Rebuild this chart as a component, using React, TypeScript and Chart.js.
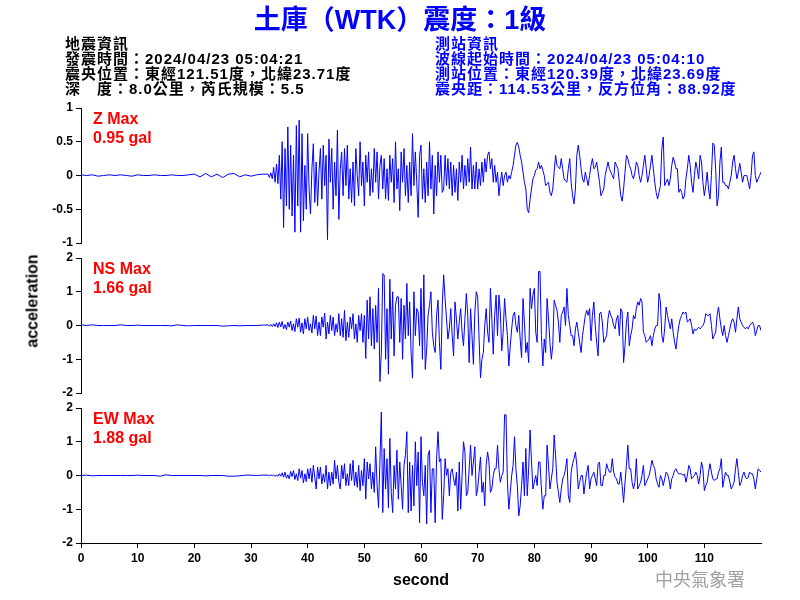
import React, { useEffect, useRef } from "react";
import { Chart, registerables } from "chart.js";

Chart.register(...registerables);

const FONT = "'Liberation Sans', Arial, 'Noto Sans CJK TC', sans-serif";

// ---- time axis (seconds) ----
const QUIET_STEP = 1;
const ACTIVE_START = 33;
const ACTIVE_STEP = 0.25;
const X_MIN = 0;
const X_MAX = 120;
const X_TICK_STEP = 10;
const X_LAST_LABEL = 110;

// ---- Z component (gal) ----
const zQuiet = [0.01, 0, 0.01, -0.01, 0, 0.01, 0, 0.01, 0, -0.01, 0.01, 0, 0, 0.01, 0, 0, 0.01, 0, 0, 0.01, 0.02, -0.02, 0.03, -0.02, 0.02, -0.03, 0.02, 0.03, -0.02, 0.01, -0.01, 0.01, 0.02];
const zActive = [
  0.02, -0.03, 0.04, -0.05,
  0.12, -0.1, 0.17, -0.12,
  0.3, -0.35, 0.5, -0.77,
  0.4, -0.45, 0.72, -0.5,
  0.45, -0.6, 0.3, -0.84,
  0.74, -0.45, 0.82, -0.84,
  0.62, -0.67, 0.15, -0.5,
  0.62, -0.2, -0.57, 0.1,
  0.47, -0.4, 0.2, -0.45,
  0.05, 0.4, -0.35, 0.45,
  -0.15, 0.3, -0.95, 0.54,
  -0.1, 0.4, -0.5, 0.2,
  -0.3, 0.67, -0.65, 0.1,
  0.35, -0.3, 0.4, -0.15,
  0.45, -0.35, 0.1, -0.4,
  0.2, -0.45, 0.4, 0.0,
  -0.3, 0.5, -0.15, 0.2,
  -0.45, 0.3, -0.1, 0.35,
  -0.3, 0.1, -0.25, 0.4,
  -0.1, 0.35, -0.35, 0.15,
  0.3, -0.2, 0.25, -0.35,
  0.1, -0.37, 0.3, -0.1,
  0.25, -0.4, 0.5, -0.2,
  0.1, -0.52, 0.35, -0.1,
  0.4, -0.3, 0.15, -0.4,
  0.2, -0.3, 0.62, -0.15,
  0.35, -0.1, -0.62, 0.3,
  0.45, -0.35, 0.1, -0.4,
  0.2, -0.3, 0.5, -0.2,
  0.3, -0.57, 0.15, -0.3,
  0.35, -0.1, 0.3, -0.25,
  -0.2, 0.3, -0.15, 0.25,
  -0.2, 0.2, -0.3, 0.15,
  -0.25, 0.1, -0.37, 0.2,
  -0.1, 0.3, -0.2, 0.15,
  -0.15, 0.25, -0.1, 0.42,
  -0.2, 0.15, -0.2, 0.2,
  -0.2, 0.1, -0.15, 0.2,
  -0.1, 0.25, 0.05, 0.3,
  0.35, 0.1, 0.25, -0.1,
  0.15, -0.1, 0.05, -0.3,
  -0.1, 0.05, -0.15, 0.0,
  0.05, -0.1, 0.0, -0.05,
  0.05, 0.15, 0.3, 0.45,
  0.49, 0.42, 0.3, 0.2,
  0.05, -0.1, -0.2, -0.5,
  -0.55, -0.35, -0.2, -0.05,
  0.0, 0.08, 0.1, 0.2,
  0.1, 0.15, 0.08, 0.0,
  -0.15, -0.12, -0.1, -0.25,
  -0.3, -0.2, 0.05, 0.3,
  0.15, 0.12, 0.1, 0.25,
  0.1, -0.05, -0.08, -0.1,
  0.1, 0.25, -0.1, -0.3,
  -0.42, -0.2, 0.3, 0.45,
  0.3, 0.1, -0.05, -0.1,
  0.05, -0.05, -0.15, 0.0,
  0.15, 0.25, 0.1, 0.12,
  0.2, 0.05, -0.1, -0.3,
  -0.25, -0.2, 0.0, 0.1,
  0.2, 0.1, 0.05, 0.0,
  -0.05, 0.2, 0.15, 0.1,
  -0.1, -0.3, -0.38, -0.2,
  0.05, 0.3, 0.25, 0.15,
  0.1, 0.0, -0.05, 0.05,
  0.2, 0.15, 0.0, -0.1,
  0.0, 0.15, 0.3, 0.1,
  -0.1, 0.0, 0.15, 0.3,
  0.1, -0.1, -0.25, -0.35,
  -0.25, -0.15, 0.4, 0.57,
  -0.15, -0.1, -0.05, -0.15,
  -0.05, 0.15, 0.27, 0.2,
  0.1, 0.1, -0.25, -0.2,
  -0.25, -0.35, -0.3, -0.05,
  0.1, 0.3, 0.15, -0.1,
  -0.25, 0.0, 0.2, 0.1,
  -0.05, 0.3, 0.2, -0.1,
  -0.3, -0.15, 0.05, -0.2,
  -0.35, 0.0, 0.48, 0.45,
  0.1, -0.45, -0.3, 0.2,
  0.42, -0.1, -0.1, -0.15,
  -0.15, -0.2, -0.1, 0.0,
  0.2, 0.3, 0.1, -0.05,
  0.05, 0.18, 0.05, -0.1,
  0.0, 0.0, 0.0, -0.1,
  -0.2, 0.0, 0.3, 0.35,
  0.0, -0.1, -0.05, 0.0,
  0.05,
];

// ---- NS component (gal) ----
const nsQuiet = [0.02, 0, 0.02, 0, 0, 0, 0, 0.02, 0, 0, 0.01, 0, 0, 0, 0, 0, -0.01, 0.02, 0, -0.01, 0, 0, 0, 0, 0, -0.02, -0.01, 0, -0.01, 0, 0, 0, 0.01];
const nsActive = [
  0.02, -0.02, 0.03, -0.03,
  0.05, -0.03, 0.08, -0.06,
  0.1, -0.04, 0.12, -0.1,
  0.03, -0.12, 0.1, -0.05,
  0.13, -0.15, 0.05, -0.18,
  0.2, -0.05, 0.22, -0.2,
  0.08, -0.25, 0.2, -0.1,
  0.25, -0.15, 0.05, -0.22,
  0.3, -0.1, 0.28, -0.3,
  0.1, -0.3, 0.25, -0.05,
  0.37, -0.4, 0.1, -0.25,
  0.3, -0.15, 0.25, -0.3,
  0.05, -0.2, 0.35, -0.3,
  0.2, -0.35, 0.45, -0.45,
  0.1, -0.35, 0.25, -0.1,
  0.35, -0.4, 0.05, -0.5,
  0.3, -0.15, 0.35, -0.5,
  0.3, -0.98, 0.75, -0.4,
  0.85, -0.6, 0.5, -0.7,
  0.6, -0.5, 1.1, -1.66,
  -0.8, 1.54, 1.5, -1.0,
  0.5, -1.44, 1.37, -0.4,
  1.0, -0.9, 0.6, 0.85,
  0.85, -0.5, 0.8, -1.0,
  0.6, -0.4, 1.25, -0.3,
  0.7, -0.8, -1.56, 1.0,
  -0.3, 0.5, 0.4, -0.6,
  1.1, -1.0, 1.5, -1.3,
  -0.7, 0.3, 0.6, 1.0,
  -0.2, -0.6, -0.8, 0.3,
  0.75, -0.5, -1.3, 0.6,
  1.5, 0.8, 0.2, -0.4,
  -0.1, 0.5, -0.3, -0.9,
  0.7, 0.2, -0.4, 0.1,
  0.5, -0.2, -0.6, 0.2,
  0.95, 0.3, -1.1, 0.5,
  -0.3, -1.15, 0.4, 1.0,
  0.85, -0.4, -1.55, -1.0,
  -0.8, 0.0, 0.5, -0.2,
  -0.5, 1.1, 0.2, -0.85,
  0.3, 0.9, -0.3, 0.9,
  0.4, -0.75, -0.2, 0.8,
  0.2, -0.3, -1.2, -0.6,
  -0.1, 0.3, 0.4, 0.0,
  -0.2, 0.3, -0.4, -0.95,
  0.8, 0.1, -0.8, -0.5,
  -1.1, 1.1, 0.5, 0.9,
  1.1, -0.2, -0.5, 1.6,
  1.6, -0.3, -1.2, -0.4,
  -0.8, 0.8, 0.2, -0.5,
  -1.0, -0.6, 0.75, 0.6,
  0.45, 0.1, -0.5, 0.3,
  0.4, 0.55, 0.0, 1.1,
  0.3, 0.0, -0.3, -0.3,
  -0.6, -0.1, 0.1, -0.2,
  -0.5, -0.8, -0.3, 0.0,
  0.3, 0.45, 0.3, 0.5,
  -0.45, 0.3, 0.7, 0.0,
  -0.5, -0.9, 0.35, 0.4,
  0.1, -0.5, -0.4, -0.3,
  0.2, 0.45, 0.3, 0.2,
  0.0, -0.1, 0.2, 0.3,
  -0.3, 0.5, 0.4, -1.1,
  -0.6, 0.1, 0.4, -0.6,
  -0.3, -0.1, 0.3, 0.2,
  0.5, 0.7, 0.6, 0.8,
  0.7, -0.2, -0.3, -0.5,
  -0.45, -0.4, -0.3, -0.6,
  -0.3, -0.1, 0.0, 0.0,
  0.95, 0.7, -0.3, -0.5,
  -0.1, 0.55, 0.3, 0.1,
  -0.1, 0.2, -0.2, -0.5,
  -0.7, -0.3, 0.0, 0.2,
  0.3, 0.4, 0.35, 0.4,
  0.1, 0.15, 0.2, 0.0,
  -0.25, -0.1, -0.15, -0.1,
  -0.05, -0.1, -0.05, 0.0,
  0.1, 0.35, 0.3, 0.3,
  0.35, 0.0, -0.4, -0.3,
  -0.2, 0.3, 0.55, 0.2,
  -0.1, -0.3, 0.0, -0.3,
  -0.5, -0.3, -0.1, 0.1,
  0.2, 0.1, -0.2, 0.2,
  0.55, 0.2, 0.1, 0.0,
  -0.05, -0.1, -0.05, -0.1,
  0.0, 0.05, 0.1, 0.0,
  -0.3, -0.15, 0.0, 0.0,
  -0.15,
];

// ---- EW component (gal) ----
const ewQuiet = [0, 0.01, -0.01, 0, 0, 0, 0, 0, 0, 0, 0.01, 0, 0, 0, -0.02, 0.02, 0, 0, 0, 0, 0, 0, -0.01, 0, 0, 0, -0.02, -0.02, -0.01, 0.01, 0.01, 0, 0.01];
const ewActive = [
  0.01, -0.01, 0.02, -0.01,
  0.02, -0.03, 0.02, -0.02,
  0.05, -0.02, 0.08, -0.05,
  0.1, -0.08, 0.02, -0.1,
  0.12, -0.03, 0.15, -0.12,
  0.05, -0.15, 0.2, -0.08,
  0.15, -0.22, 0.05, -0.18,
  0.2, -0.1, 0.22, -0.2,
  0.3, -0.05, -0.4, 0.25,
  -0.1, 0.25, -0.25, 0.05,
  -0.2, 0.3, -0.4, 0.1,
  -0.3, 0.1, -0.25, 0.45,
  -0.1, 0.3, -0.2, -0.4,
  0.3, -0.1, 0.35, -0.3,
  0.05, -0.3, 0.35, -0.15,
  0.45, -0.3, 0.1, -0.35,
  0.3, -0.45, 0.15, -0.3,
  0.5, -0.7, 0.4, -0.1,
  0.35, -0.4, 0.1, -0.5,
  0.85, -0.3, -0.95, 0.4,
  1.88, -1.1, 0.8, -0.4,
  0.5, -0.95, 1.1, -0.5,
  -1.1, 0.3, -0.4, 0.75,
  -0.7, 0.4, -0.3, -1.0,
  0.3, 0.6, 1.3, -1.1,
  0.4, -1.05, 0.3, -0.9,
  1.0, -0.3, 0.7, -1.4,
  1.15, -0.2, -0.6, 0.3,
  -1.44, 0.6, 0.75, -1.1,
  0.2, 0.2, -1.4, 0.5,
  1.3, 0.4, 0.5, -1.3,
  -0.6, 0.5, 0.0, 0.2,
  -0.6, 0.1, 0.2, -0.1,
  -0.3, 0.1, -1.05, 0.4,
  -1.0, 0.0, 1.0, 0.7,
  -0.6, -0.5, 0.2, 0.9,
  0.0, 0.4, 0.85, -0.6,
  -0.4, 0.1, 0.55, -0.5,
  -0.2, -0.9, 0.3, 0.7,
  0.4, -0.5, -0.4, 0.0,
  0.2, 0.2, 0.9, 0.2,
  -0.2, 0.0, 0.1, 1.8,
  1.8, -0.2, -1.0, -0.5,
  0.0, 0.3, 1.15, 0.2,
  -0.3, -1.2, -0.9, -0.3,
  0.4, -0.6, 0.8, -0.6,
  0.2, 1.35, 0.4, -0.4,
  -0.2, 0.0, -0.3, 0.4,
  0.4, -0.4, -1.0, -0.6,
  -0.6, 0.9, 0.3, -0.4,
  -0.1, 0.2, 1.2, 0.6,
  -0.2, -0.5, -0.8, -0.4,
  -0.1, 0.0, 0.2, 0.5,
  -0.6, -0.8, 0.1, 0.35,
  0.5, 0.7, 0.3, -0.4,
  -0.2, 0.0, 0.0, -0.55,
  -0.2, 0.1, 0.3, -0.4,
  -0.1, 0.0, 0.1, -0.1,
  -0.3, 0.35, 0.4, -0.3,
  -0.3, 0.0, 0.0, 0.35,
  0.2, 0.1, 0.1, 0.5,
  0.1, -0.05, -0.1, -0.25,
  -0.25, 0.1, -0.3, -0.8,
  -0.2, 0.3, 0.9, 0.2,
  0.2, -0.2, -0.4, -0.2,
  0.5, -0.4, -0.3, -0.2,
  0.0, 0.3, -0.3, -0.2,
  -0.1, 0.0, 0.2, 0.45,
  0.3, 0.2, -0.1, -0.25,
  -0.35, 0.0, -0.1, -0.3,
  -0.1, 0.1, 0.05, -0.1,
  -0.4, -0.1, 0.0, 0.15,
  0.2, 0.1, 0.05, 0.05,
  0.05, 0.0, 0.05, -0.2,
  0.0, 0.3, 0.2, -0.1,
  -0.05, 0.0, 0.1, 0.0,
  -0.25, 0.0, 0.4, 0.2,
  -0.45, -0.3, -0.2, 0.1,
  0.35, 0.1, -0.1, -0.15,
  -0.1, -0.1, 0.1, 0.2,
  0.5, -0.35, -0.1, 0.1,
  0.0, 0.0, -0.2, -0.4,
  -0.3, -0.2, 0.2, 0.5,
  0.1, -0.3, -0.2, 0.0,
  0.1, -0.05, -0.1, -0.05,
  0.1, 0.05, 0.05, -0.1,
  -0.4, -0.1, 0.2, 0.15,
  0.1,
];

// ---- axis ranges / labels ----
const channelNames = ["Z", "NS", "EW"];
const channelPeaks = ["0.95 gal", "1.66 gal", "1.88 gal"];
const yMins = [-1, -2, -2];
const yMaxs = [1, 2, 2];
const ySteps = [0.5, 1, 1];
const quietSeries = [zQuiet, nsQuiet, ewQuiet];
const activeSeries = [zActive, nsActive, ewActive];

const titleText = "土庫（WTK）震度：1級";
const quakeInfo = [
  "地震資訊",
  "發震時間：2024/04/23 05:04:21",
  "震央位置：東經121.51度，北緯23.71度",
  "深　度：8.0公里，芮氏規模：5.5",
];
const stationInfo = [
  "測站資訊",
  "波線起始時間：2024/04/23 05:04:10",
  "測站位置：東經120.39度，北緯23.69度",
  "震央距：114.53公里，反方位角：88.92度",
];
const yTitle = "acceleration";
const xTitle = "second";
const agency = "中央氣象署";

// ---- layout ----
const W = 800;
const H = 600;
const PANEL_TOP = 108;
const PANEL_PITCH = 150;
const PANEL_H = 135;
const PLOT_LEFT = 81;
const PLOT_RIGHT = 761;
const X_AXIS_H = 57;

function toPoints(quiet: number[], active: number[]) {
  const pts: { x: number; y: number }[] = [];
  quiet.forEach((v, i) => pts.push({ x: X_MIN + i * QUIET_STEP, y: v }));
  active.forEach((v, i) => pts.push({ x: ACTIVE_START + i * ACTIVE_STEP, y: v }));
  return pts;
}

export default function App() {
  const r0 = useRef<HTMLCanvasElement>(null);
  const r1 = useRef<HTMLCanvasElement>(null);
  const r2 = useRef<HTMLCanvasElement>(null);

  useEffect(() => {
    const refs = [r0, r1, r2];
    const tickFont = { family: FONT, size: 12, weight: "bold" as const };
    const charts = refs.map((ref, i) => {
      const isLast = i === refs.length - 1;
      const top = PANEL_TOP + i * PANEL_PITCH;
      const bottom = top + PANEL_H;
      return new Chart(ref.current as HTMLCanvasElement, {
        type: "line",
        data: {
          datasets: [
            {
              data: toPoints(quietSeries[i], activeSeries[i]),
              borderColor: "#0000ff",
              borderWidth: 1,
              pointRadius: 0,
              fill: false,
              tension: 0,
            },
          ],
        },
        options: {
          responsive: false,
          animation: false,
          parsing: false,
          normalized: true,
          events: [],
          layout: {
            padding: {
              left: 0,
              right: W - PLOT_RIGHT,
              top: top,
              bottom: isLast ? H - bottom - X_AXIS_H : H - bottom,
            },
          },
          plugins: {
            legend: { display: false },
            tooltip: { enabled: false },
            title: { display: false },
          },
          scales: {
            x: {
              type: "linear",
              display: isLast,
              min: X_MIN,
              max: X_MAX,
              afterBuildTicks: (s: any) => {
                s.ticks = s.ticks.filter((t: any) => t.value <= X_LAST_LABEL);
              },
              afterFit: (s: any) => {
                s.height = isLast ? X_AXIS_H : 0;
              },
              ticks: {
                stepSize: X_TICK_STEP,
                autoSkip: false,
                maxRotation: 0,
                color: "#000",
                font: tickFont,
                padding: 3,
              },
              grid: { drawOnChartArea: false, drawTicks: true, tickLength: 5, color: "#000" },
              border: { display: true, color: "#000" },
              title: {
                display: true,
                text: xTitle,
                color: "#000",
                font: { family: FONT, size: 16, weight: "bold" },
                padding: { top: 0, bottom: 10 },
              },
            },
            y: {
              type: "linear",
              min: yMins[i],
              max: yMaxs[i],
              afterFit: (s: any) => {
                s.width = PLOT_LEFT;
              },
              ticks: {
                stepSize: ySteps[i],
                color: "#000",
                font: tickFont,
                padding: 3,
                callback: (v: any) => String(Number(v)),
              },
              grid: { drawOnChartArea: false, drawTicks: true, tickLength: 5, color: "#000" },
              border: { display: true, color: "#000" },
            },
          },
        },
      } as any);
    });
    return () => charts.forEach((c) => c.destroy());
  }, []);

  const canvasStyle: React.CSSProperties = {
    position: "absolute",
    left: 0,
    top: 0,
    width: W,
    height: H,
    display: "block",
  };
  const textBase: React.CSSProperties = {
    position: "absolute",
    fontFamily: FONT,
    fontWeight: "bold",
    whiteSpace: "nowrap",
  };

  return (
    <div
      style={{
        position: "fixed",
        left: 0,
        top: 0,
        width: W,
        height: H,
        background: "#fff",
        overflow: "hidden",
      }}
    >
      <canvas ref={r0} width={W} height={H} style={canvasStyle} />
      <canvas ref={r1} width={W} height={H} style={canvasStyle} />
      <canvas ref={r2} width={W} height={H} style={canvasStyle} />

      <div
        style={{
          ...textBase,
          left: 0,
          top: 4,
          width: W,
          textAlign: "center",
          fontSize: 27,
          lineHeight: "32px",
          color: "#0000ff",
        }}
      >
        {titleText}
      </div>

      <div
        style={{
          ...textBase,
          left: 65,
          top: 36,
          fontSize: 15,
          letterSpacing: "1px",
          lineHeight: "15px",
          color: "#000",
        }}
      >
        {quakeInfo.map((t, i) => (
          <div key={i}>{t}</div>
        ))}
      </div>
      <div
        style={{
          ...textBase,
          left: 435,
          top: 36,
          fontSize: 15,
          letterSpacing: "1px",
          lineHeight: "15px",
          color: "#0000ff",
        }}
      >
        {stationInfo.map((t, i) => (
          <div key={i}>{t}</div>
        ))}
      </div>

      {channelNames.map((n, i) => (
        <div
          key={n}
          style={{
            ...textBase,
            left: 93,
            top: 109 + i * PANEL_PITCH,
            fontSize: 16,
            lineHeight: "19px",
            color: "#ff0000",
          }}
        >
          <div>{n} Max</div>
          <div>{channelPeaks[i]}</div>
        </div>
      ))}

      <div
        style={{
          ...textBase,
          left: 32,
          top: 301,
          fontSize: 16,
          lineHeight: "19px",
          color: "#000",
          transform: "translate(-50%, -50%) rotate(-90deg)",
        }}
      >
        {yTitle}
      </div>

      <div
        style={{
          ...textBase,
          left: 655,
          top: 569,
          fontSize: 18,
          lineHeight: "22px",
          fontWeight: "normal",
          color: "#a0a0a0",
        }}
      >
        {agency}
      </div>
    </div>
  );
}
